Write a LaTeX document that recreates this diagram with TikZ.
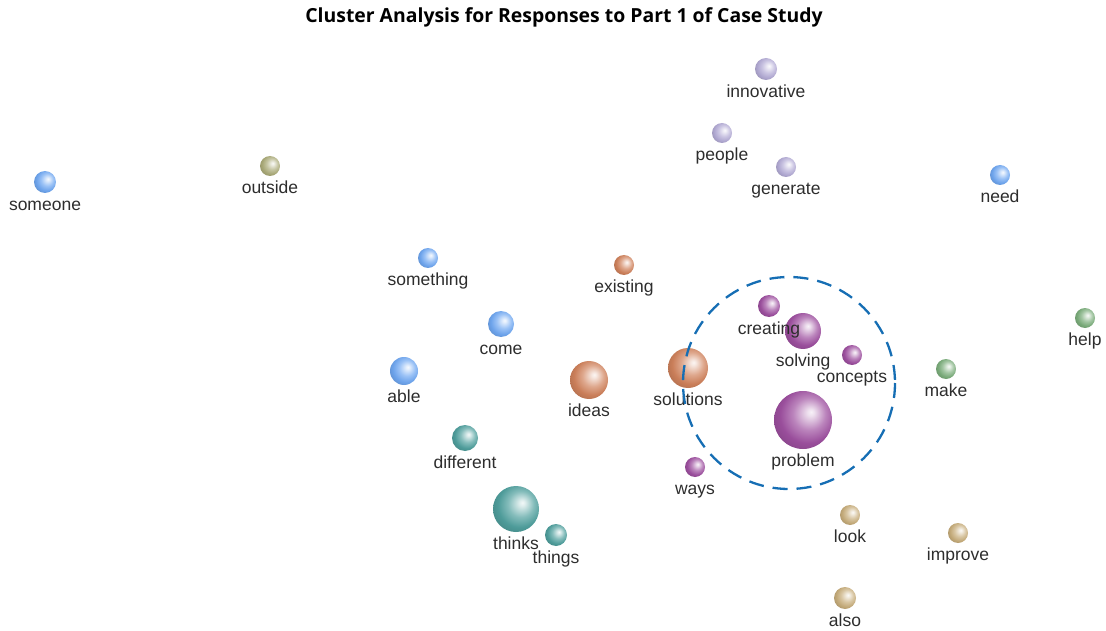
\documentclass[tikz,border=0pt]{standalone}
\usepackage{fontspec}
\setmainfont{Liberation Sans}
\newfontfamily\titlefont{Open Sans}
\usepackage{xcolor}
\definecolor{skyball}{RGB}{112,168,242}
\definecolor{lilacball}{RGB}{180,172,214}
\definecolor{oliveball}{RGB}{172,172,122}
\definecolor{rustball}{RGB}{208,130,92}
\definecolor{plumball}{RGB}{158,80,160}
\definecolor{tealball}{RGB}{80,160,158}
\definecolor{sageball}{RGB}{124,174,124}
\definecolor{sandball}{RGB}{200,174,124}
\definecolor{ringblue}{RGB}{22,110,180}
\definecolor{wordgray}{RGB}{45,45,45}
\colorlet{ballc}{gray}
% lit from the upper right, slightly darker rim
\pgfdeclareradialshading[ballc]{sphere}{\pgfpoint{7bp}{7bp}}{%
  color(0bp)=(ballc!8!white); color(3bp)=(ballc!18!white);
  color(14bp)=(ballc!70!white); color(24bp)=(ballc!97!black);
  color(32bp)=(ballc!86!black); color(60bp)=(ballc!86!black)}
% word/x/y/radius/colour
\def\wordlist{
  innovative/766/69/11/lilacball, people/722/133/10/lilacball,
  generate/786/167/10/lilacball, need/1000/175/10/skyball,
  someone/45/182/11/skyball, outside/270/166/10/oliveball,
  something/428/258/10/skyball, existing/624/265/10/rustball,
  help/1085/318/10/sageball, come/501/324/13/skyball,
  creating/769/306/11/plumball, solving/803/331/18/plumball,
  concepts/852/355/10/plumball, make/946/369/10/sageball,
  able/404/371/14/skyball, ideas/589/380/19/rustball,
  solutions/688/368/20/rustball, problem/803/420/29/plumball,
  different/465/438/13/tealball, ways/695/467/10/plumball,
  thinks/516/509/23/tealball, things/556/535/11/tealball,
  look/850/515/10/sandball, improve/958/533/10/sandball,
  also/845/598/11/sandball}

\begin{document}
\begin{tikzpicture}[x=1pt,y=-1pt,
  ball/.style={circle,inner sep=0pt,shading=sphere},
  tint/.code={\colorlet{ballc}{#1}},
  word/.style={anchor=base,text=wordgray,inner sep=0pt,
    font=\fontsize{17.5}{20}\selectfont}]
  \useasboundingbox (0,0) rectangle (1106,631);
  \node[font=\titlefont\bfseries\fontsize{19.4}{22}\selectfont] (title) at (564,17)
    {Cluster Analysis for Responses to Part 1 of Case Study};
  % balls first, words on top
  \foreach \w/\x/\y/\r/\c in \wordlist
    \node[ball,tint=\c,minimum size=2*\r pt] (\w) at (\x,\y) {};
  \foreach \w/\x/\y/\r/\c in \wordlist
    \node[word] (\w-txt) at ([yshift=-17pt]\w.south) {\w};
  % ring round the problem-solving group
  \draw[ringblue,line width=2.3pt,dash pattern=on 15pt off 9pt]
    (789,383) circle (106);
\end{tikzpicture}
\end{document}
